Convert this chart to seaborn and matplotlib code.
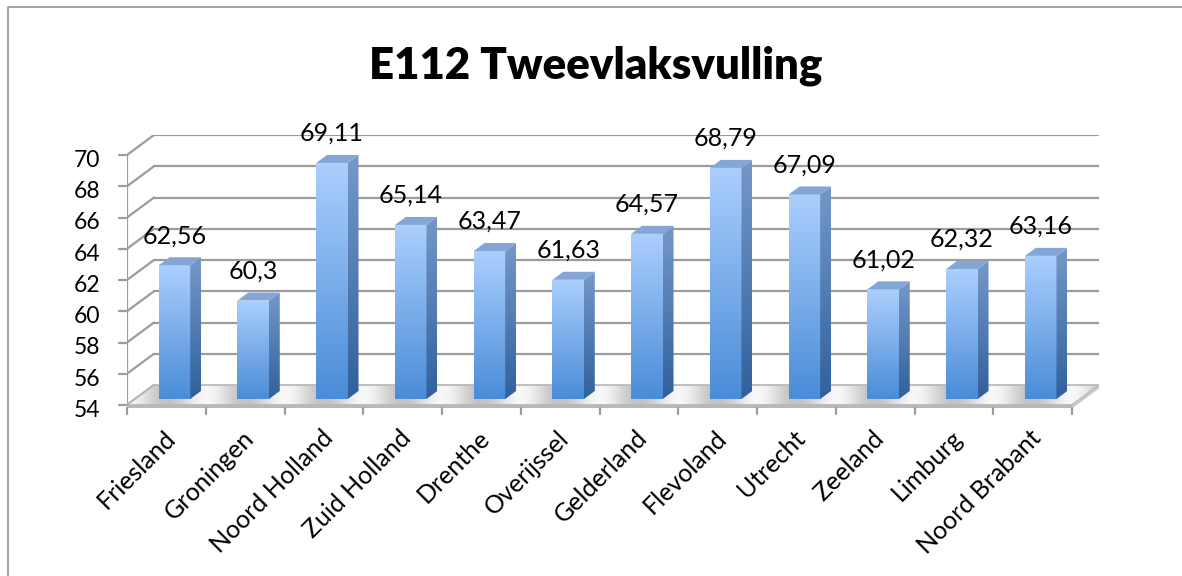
import numpy as np
import matplotlib
matplotlib.use("Agg")
import matplotlib.pyplot as plt
import seaborn as sns
from matplotlib.patches import Polygon, Rectangle
from matplotlib.colors import LinearSegmentedColormap
from matplotlib.lines import Line2D

provinces = ["Friesland", "Groningen", "Noord Holland", "Zuid Holland", "Drenthe",
             "Overijssel", "Gelderland", "Flevoland", "Utrecht", "Zeeland",
             "Limburg", "Noord Brabant"]
values = [62.56, 60.3, 69.11, 65.14, 63.47, 61.63, 64.57, 68.79, 67.09, 61.02, 62.32, 63.16]
y_ticks = [54, 56, 58, 60, 62, 64, 66, 68, 70]
title = "E112 Tweevlaksvulling"

sns.set_theme(style="white")
plt.rcParams["font.family"] = ["Lato", "DejaVu Sans"]

W, H = 1182, 576
# pseudo 3d frame: full depth offset in data units
DX = 27 / 78.75
DY = 20 / 15.625
Y0 = y_ticks[0]
GRID = "#9c9c9c"

fig = plt.figure(figsize=(W / 100, H / 100), dpi=100)
ax = fig.add_axes([127 / W, 1 - 405 / H, (1099 - 127) / W, 270 / H])

sns.barplot(x=provinces, y=values, ax=ax, width=0.4, color="#5b9be0", saturation=1)

n = len(provinces)
ax.set_xlim(-0.5, n - 0.5 + DX)
ax.set_ylim(Y0, y_ticks[-1] + DY)
ax.axis("off")


def grad_cmap(top, bottom):
    return LinearSegmentedColormap.from_list("g", [bottom, top])


def gradient(patch, top, bottom, extent, z):
    img = np.linspace(0, 1, 256).reshape(-1, 1)
    im = ax.imshow(img, cmap=grad_cmap(top, bottom), aspect="auto", extent=extent,
                   origin="lower", zorder=z, interpolation="bilinear")
    im.set_clip_path(patch)


# floor
floor = Polygon([(-0.5, Y0), (n - 0.5, Y0), (n - 0.5 + DX, Y0 + DY), (-0.5 + DX, Y0 + DY)],
                closed=True, facecolor="none", edgecolor="#b5b5b5", lw=1.2, zorder=2)
ax.add_patch(floor)
xs = np.linspace(-0.5, n - 0.5 + DX, 1200)
shade = 0.5 + 0.5 * np.cos(2 * np.pi * (xs + 0.5))
floor_img = np.tile(shade, (20, 1))
fcmap = LinearSegmentedColormap.from_list("f", ["#c2c2c2", "#f7f7f7"])
im = ax.imshow(floor_img, cmap=fcmap, aspect="auto", extent=(-0.5, n - 0.5 + DX, Y0, Y0 + DY),
               origin="lower", zorder=1.5, interpolation="bilinear")
im.set_clip_path(floor)
edge_h = 0.22
ax.add_patch(Rectangle((-0.5, Y0 - edge_h), n, edge_h, facecolor="#b8b8b8",
                       edgecolor="none", zorder=2, clip_on=False))
ax.add_patch(Polygon([(n - 0.5, Y0 - edge_h), (n - 0.5, Y0), (n - 0.5 + DX, Y0 + DY),
                      (n - 0.5 + DX, Y0 + DY - edge_h)], closed=True,
                     facecolor="#c8c8c8", edgecolor="none", zorder=2, clip_on=False))

# walls: gridlines
for v in y_ticks[1:]:
    ax.plot([-0.5 + DX, n - 0.5 + DX], [v + DY, v + DY], color=GRID, lw=1.6, zorder=1)
for v in y_ticks:
    ax.plot([-0.5, -0.5 + DX], [v, v + DY], color=GRID, lw=1.6, zorder=1)
    ax.plot([-0.5 - 0.1, -0.5], [v, v], color=GRID, lw=1.6, zorder=1, clip_on=False)
    ax.text(-0.5 - 0.34, v - 0.35, str(v), ha="right", va="center", fontsize=16.5, color="black")
ax.plot([-0.5, -0.5], [Y0, y_ticks[-1]], color=GRID, lw=1.6, zorder=1)

# x ticks
for k in range(n + 1):
    ax.plot([k - 0.5, k - 0.5], [Y0 - edge_h, Y0 - 0.55], color=GRID, lw=1.6, clip_on=False)

# bars: front faces from seaborn, plus side and top faces
f_lo, f_hi = 0.3, 0.7
d = f_hi - f_lo
for bar, v, name in zip(ax.patches[:n], values, provinces):
    x0 = bar.get_x() + f_lo * DX
    w = bar.get_width()
    x1 = x0 + w
    base = Y0 + f_lo * DY
    top = v + f_lo * DY
    bar.set_x(x0)
    bar.set_y(base)
    bar.set_height(top - base)
    bar.set_facecolor("none")
    bar.set_edgecolor("none")
    bar.set_zorder(5)
    gradient(bar, "#abcffd", "#4a8cd8", (x0, x1, base, top), 4)
    side = Polygon([(x1, base), (x1 + d * DX, base + d * DY), (x1 + d * DX, top + d * DY), (x1, top)],
                   closed=True, facecolor="none", edgecolor="none", zorder=5)
    ax.add_patch(side)
    gradient(side, "#7598c8", "#30609c", (x1, x1 + d * DX, base, top + d * DY), 4)
    ax.add_patch(Polygon([(x0, top), (x1, top), (x1 + d * DX, top + d * DY), (x0 + d * DX, top + d * DY)],
                         closed=True, facecolor="#83a6d6", edgecolor="none", zorder=4))
    ax.text(x0 + w / 2, top + d * DY + 0.65, f"{v:g}".replace(".", ","),
            ha="center", va="bottom", fontsize=18, color="black", zorder=6)
    ax.text(x0 - f_lo * DX + w / 2 - 0.04, Y0 - 1.35, name, ha="right", va="top",
            rotation=45, rotation_mode="anchor", fontsize=18, color="black")

ax.set_xlim(-0.5, n - 0.5 + DX)
ax.set_ylim(Y0, y_ticks[-1] + DY)

fig.text(596 / W, 1 - 78 / H, title, ha="center", va="baseline", fontsize=31.5,
         fontweight="heavy", color="black")

# chart area border (top and left edges visible)
fig.add_artist(Line2D([8 / W, 8 / W, 1.0], [0.0, 1 - 6.5 / H, 1 - 6.5 / H],
                      transform=fig.transFigure, color="#a6a6a6", lw=1.5))

fig.savefig("out.png", dpi=100)
